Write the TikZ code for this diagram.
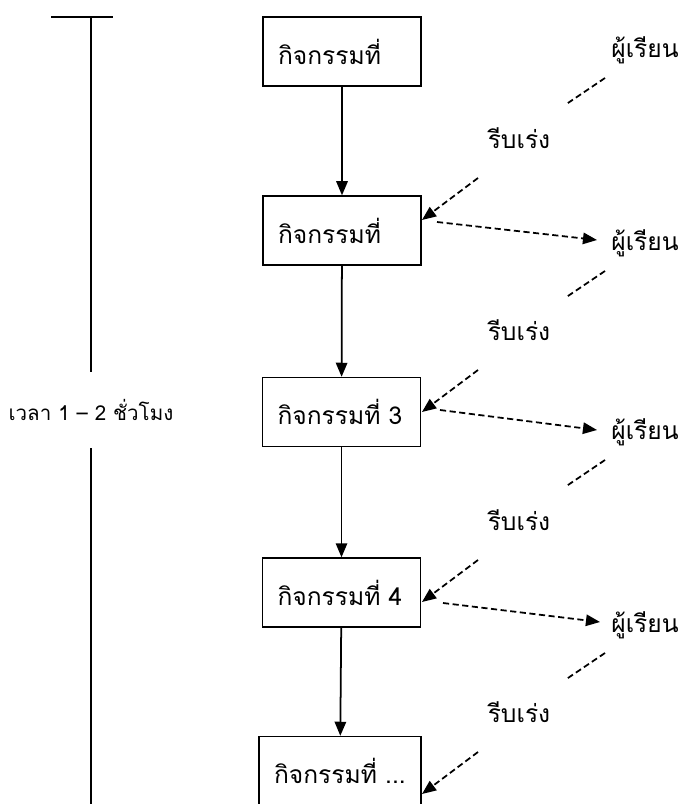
\documentclass[tikz,border=0pt]{standalone}
\usepackage{fontspec}
\newfontfamily\thaifont[Script=Thai]{Loma}
\usetikzlibrary{arrows.meta}

\tikzset{
  thaitext/.style={font=\thaifont\fontsize{14}{16}\selectfont, inner sep=1pt},
  actbox/.style={thaitext, draw, line width=0.8pt, inner xsep=0.3cm, text width=2.56cm,
    align=left, minimum height=1.38cm},
  flow/.style={line width=1pt, -{Triangle[length=8pt,width=6.5pt]}},
  dashline/.style={line width=1pt, dash pattern=on 3.5pt off 2pt},
  dasharrow/.style={dashline, -{Triangle[length=8pt,width=6.5pt]}}
}

\begin{document}
\begin{tikzpicture}[x=0.02cm, y=-0.02cm]
\clip (0,0) rectangle (680,804);

% time line on the left
\coordinate (tickl) at (51,17);
\coordinate (tickr) at (113,17);
\coordinate (ttop) at (91,17);
\coordinate (tbot) at (91,812);
\node[thaitext, font=\thaifont\fontsize{11.7}{14}\selectfont, inner ysep=0.55cm] (timelabel) at (91,410) {เวลา 1 – 2 ชั่วโมง};
\draw[line width=0.8pt] (tickl) -- (tickr);
\draw[line width=0.8pt] (ttop) -- (timelabel.north);
\draw[line width=0.8pt] (timelabel.south) -- (tbot);

% activities
\node[actbox] (act1) at (342,51.5) {กิจกรรมที่};
\node[actbox] (act2) at (342,230.5) {กิจกรรมที่};
\node[actbox] (act3) at (341.5,412) {กิจกรรมที่ 3};
\node[actbox] (act4) at (341.5,592.5) {กิจกรรมที่ 4};
\node[actbox, text width=2.64cm] (act5) at (340,771) {กิจกรรมที่ ...};

\foreach \a/\b in {1/2, 2/3, 3/4, 4/5}
  \draw[flow] (act\a) -- (act\b);

% learners and hurrying
\foreach \i/\ly/\hy in {1/50/138, 2/243/330, 3/432/520, 4/625/712} {
  \node[thaitext] (learn\i) at (645,\ly) {ผู้เรียน};
  \node[thaitext] (hurry\i) at (519,\hy) {รีบเร่ง};
  \coordinate (la\i) at (605,\ly+28);
  \coordinate (lb\i) at (565,\ly+55);
  \coordinate (ha\i) at (478,\hy+40);
  \coordinate (hb\i) at (422,\hy+82);
  \draw[dashline] (la\i) -- (lb\i);
  \draw[dasharrow] (ha\i) -- (hb\i);
}
\coordinate (oa2) at (437,222);
\coordinate (ob2) at (597,240);
\coordinate (oa3) at (440,410);
\coordinate (ob3) at (597,430);
\coordinate (oa4) at (443,603);
\coordinate (ob4) at (600,622);
\foreach \i in {2,3,4}
  \draw[dasharrow] (oa\i) -- (ob\i);
\end{tikzpicture}
\end{document}
